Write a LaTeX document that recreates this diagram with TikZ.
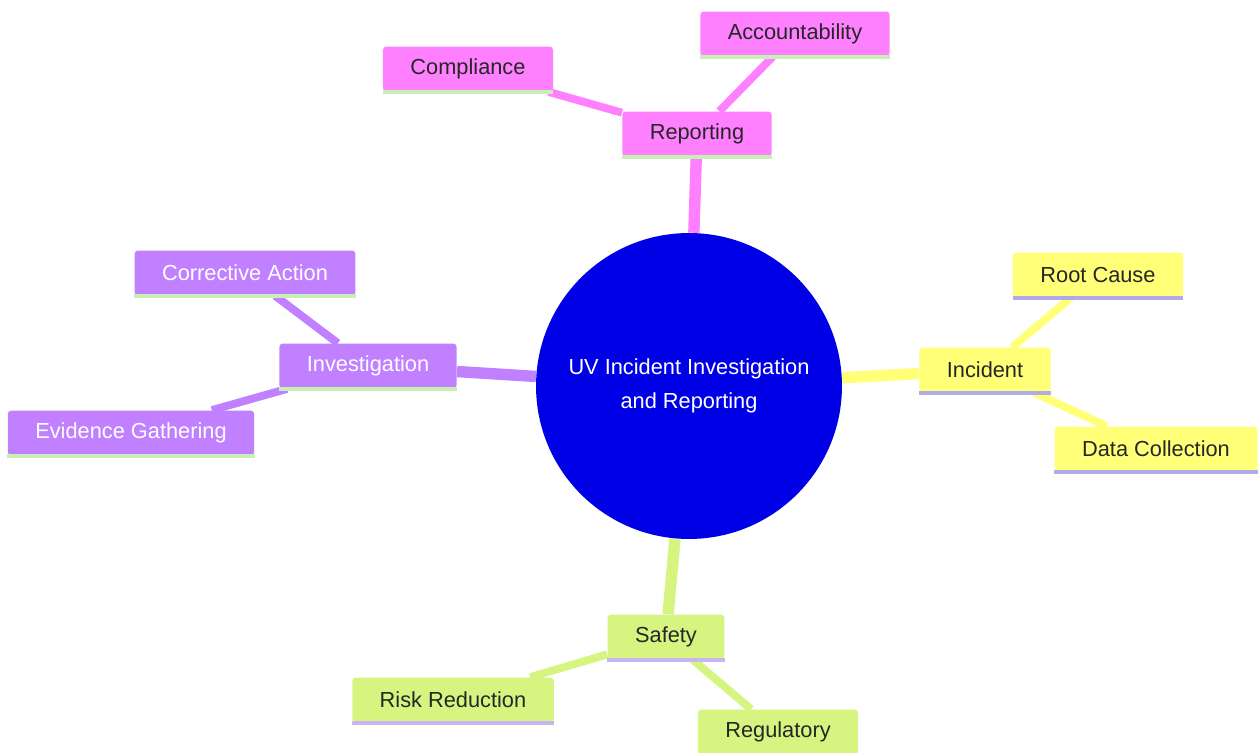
\documentclass[tikz,border=0pt]{standalone}
\usepackage{fontspec}
\setmainfont{Liberation Sans}
\usepackage{tikz}
\pgfdeclarelayer{bg}
\pgfsetlayers{bg,main}

\definecolor{uvblue}{RGB}{0,0,230}
\definecolor{reppink}{RGB}{255,128,255}
\definecolor{invpurple}{RGB}{192,128,255}
\definecolor{incyellow}{RGB}{255,255,120}
\definecolor{safgreen}{RGB}{214,245,128}
\definecolor{lineGreen}{RGB}{200,240,180}
\definecolor{lineLav}{RGB}{176,170,232}
\definecolor{lineLil}{RGB}{200,180,240}

\tikzset{
  topic/.style={rectangle, rounded corners=2pt, minimum height=0.9cm,
    inner xsep=0.55cm, font=\fontsize{12.4}{15}\selectfont},
  root/.style={circle, fill=uvblue, minimum size=6.12cm, align=center,
    text=white, font=\fontsize{12.4}{19}\selectfont},
  main/.style={line width=6.5pt},
  sub/.style={line width=4.5pt}
}

\begin{document}
\begin{tikzpicture}[x=0.02cm, y=-0.02cm]
  \useasboundingbox (0,0) rectangle (1259,753);

  \node [root] (uv) at (689,386) {UV Incident Investigation\\and Reporting};

  \node [topic, fill=reppink, text=black!85] (rep) at (697,134) { Reporting };
  \node [topic, fill=reppink, text=black!85] (comp) at (468,69) { Compliance };
  \node [topic, fill=reppink, text=black!85] (acc) at (795,34) { Accountability };

  \node [topic, fill=invpurple, text=white] (inv) at (368,366) { Investigation };
  \node [topic, fill=invpurple, text=white] (corr) at (245,273) { Corrective Action };
  \node [topic, fill=invpurple, text=white] (evid) at (131,433) { Evidence Gathering };

  \node [topic, fill=incyellow, text=black!85] (inc) at (985,370) { Incident };
  \node [topic, fill=incyellow, text=black!85] (root) at (1098,275) { Root Cause };
  \node [topic, fill=incyellow, text=black!85] (data) at (1156,449) { Data Collection };

  \node [topic, fill=safgreen, text=black!85] (saf) at (666,637) { Safety };
  \node [topic, fill=safgreen, text=black!85] (risk) at (453,700) { Risk Reduction };
  \node [topic, fill=safgreen, text=black!85] (reg) at (778,732) { Regulatory };

  % bottom edges of the boxes
  \foreach \n/\c in {rep/lineGreen, comp/lineGreen, acc/lineGreen,
                     inv/lineGreen, corr/lineGreen, evid/lineGreen,
                     inc/lineLav, root/lineLav, data/lineLav,
                     saf/lineLil, risk/lineLil, reg/lineLil}
    \draw [\c, line width=2pt] (\n.south west) -- (\n.south east);

  \begin{pgfonlayer}{bg}    % branches behind the boxes
      \draw [main, reppink] (uv) -- (rep);
      \draw [sub, reppink] (rep) -- (comp) (rep) -- (acc);
      \draw [main, invpurple] (uv) -- (inv);
      \draw [sub, invpurple] (inv) -- (corr) (inv) -- (evid);
      \draw [main, incyellow] (uv) -- (inc);
      \draw [sub, incyellow] (inc) -- (root) (inc) -- (data);
      \draw [main, safgreen] (uv) -- (saf);
      \draw [sub, safgreen] (saf) -- (risk) (saf) -- (reg);
  \end{pgfonlayer}
\end{tikzpicture}
\end{document}
